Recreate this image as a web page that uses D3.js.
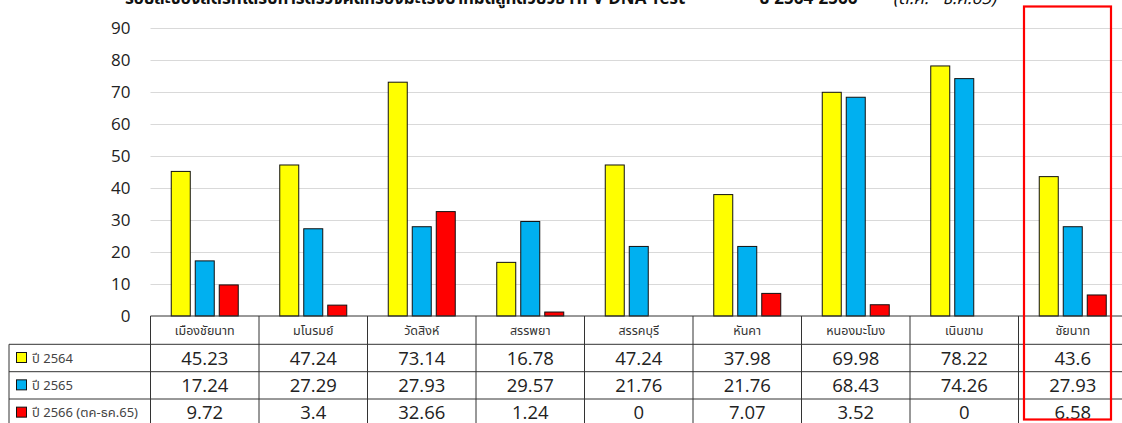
<!DOCTYPE html>
<html>
<head>
<meta charset="utf-8">
<script src="https://cdn.jsdelivr.net/npm/d3@7"></script>
<style>
  html, body { margin: 0; padding: 0; background: #fff; overflow: hidden; }
  svg { display: block; }
</style>
</head>
<body>
<svg id="chart" width="1122" height="423"></svg>
<script>
// Districts of Chai Nat province (last column = whole province)
const categories = ["เมืองชัยนาท", "มโนรมย์", "วัดสิงห์", "สรรพยา", "สรรคบุรี", "หันคา", "หนองมะโมง", "เนินขาม", "ชัยนาท"];
const seriesNames = ["ปี 2564", "ปี 2565", "ปี 2566 (ตค-ธค.65)"];
const values2564 = [45.23, 47.24, 73.14, 16.78, 47.24, 37.98, 69.98, 78.22, 43.6];
const values2565 = [17.24, 27.29, 27.93, 29.57, 21.76, 21.76, 68.43, 74.26, 27.93];
const values2566 = [9.72, 3.4, 32.66, 1.24, 0, 7.07, 3.52, 0, 6.58];
const valueLabels2564 = ["45.23", "47.24", "73.14", "16.78", "47.24", "37.98", "69.98", "78.22", "43.6"];
const valueLabels2565 = ["17.24", "27.29", "27.93", "29.57", "21.76", "21.76", "68.43", "74.26", "27.93"];
const valueLabels2566 = ["9.72", "3.4", "32.66", "1.24", "0", "7.07", "3.52", "0", "6.58"];
const yTicks = [0, 10, 20, 30, 40, 50, 60, 70, 80, 90];

const seriesValues = [values2564, values2565, values2566];
const seriesLabels = [valueLabels2564, valueLabels2565, valueLabels2566];
const colors = ["#FFFF00", "#00B0F0", "#FF0000"];

const svg = d3.select("#chart");
const numFont = "'Open Sans', 'Noto Sans', sans-serif";
const thaiFont = "'Noto Sans Thai', 'Tahoma', 'Noto Sans', sans-serif";

const plotLeft = 150.5, plotRight = 1127, plotTop = 28.3, plotBottom = 316;
const legendLeft = 9;
const rowEdges = [316, 344.3, 371.7, 399, 426.3];

const x = d3.scaleBand().domain(categories).range([plotLeft, plotRight]).padding(0);
const groupWidth = 67;
const xs = d3.scaleBand().domain(d3.range(3)).range([0, groupWidth]).paddingInner(5 / 24).paddingOuter(0);
const y = d3.scaleLinear().domain([0, 90]).range([plotBottom, plotTop]);

// Title (runs off the top edge of the sheet)
const title = svg.append("text").attr("y", 4).attr("font-family", thaiFont).attr("font-size", 17).attr("fill", "#111");
title.append("tspan").attr("x", 125).attr("font-weight", "bold").text("ร้อยละของสตรีที่ได้รับการตรวจคัดกรองมะเร็งปากมดลูกด้วยวิธี HPV DNA Test");
title.append("tspan").attr("x", 759).attr("font-weight", "bold").text("ปี 2564-2566");
title.append("tspan").attr("x", 893).attr("font-style", "italic").text("(ต.ค. - ธ.ค.65)");

// Gridlines
svg.append("g")
  .selectAll("line")
  .data(yTicks.filter(d => d > 0))
  .join("line")
  .attr("x1", plotLeft).attr("x2", plotRight)
  .attr("y1", d => Math.round(y(d)) + 0.5).attr("y2", d => Math.round(y(d)) + 0.5)
  .attr("stroke", "#d9d9d9").attr("stroke-width", 1);

// Y axis labels
const yAxis = svg.append("g").attr("transform", `translate(${plotLeft},0)`)
  .call(d3.axisLeft(y).tickValues(yTicks).tickSize(0).tickPadding(20));
yAxis.select(".domain").remove();
yAxis.selectAll("text").attr("font-family", numFont).attr("font-size", 17).attr("fill", "#222");

// Bars
const groups = svg.append("g")
  .selectAll("g")
  .data(categories)
  .join("g")
  .attr("transform", d => `translate(${x(d) + (x.bandwidth() - groupWidth) / 2},0)`);

groups.selectAll("rect")
  .data((d, i) => seriesValues.map((s, k) => ({ k, v: s[i] })).filter(e => e.v > 0))
  .join("rect")
  .attr("x", d => xs(d.k))
  .attr("y", d => y(d.v))
  .attr("width", xs.bandwidth())
  .attr("height", d => y(0) - y(d.v))
  .attr("fill", d => colors[d.k])
  .attr("stroke", "#111").attr("stroke-width", 1);

// Data table
const table = svg.append("g");
const lineColor = "#333";

// horizontal rules
table.append("line").attr("x1", plotLeft).attr("x2", plotRight).attr("y1", rowEdges[0]).attr("y2", rowEdges[0]).attr("stroke", lineColor);
rowEdges.slice(1, 4).forEach(r => {
  table.append("line").attr("x1", legendLeft).attr("x2", plotRight).attr("y1", r).attr("y2", r).attr("stroke", lineColor);
});
// vertical rules
categories.forEach(c => {
  table.append("line").attr("x1", x(c)).attr("x2", x(c)).attr("y1", rowEdges[0]).attr("y2", rowEdges[4]).attr("stroke", lineColor);
});
table.append("line").attr("x1", legendLeft).attr("x2", legendLeft).attr("y1", rowEdges[1]).attr("y2", rowEdges[4]).attr("stroke", lineColor);

// category header
table.selectAll("text.cat")
  .data(categories)
  .join("text")
  .attr("class", "cat")
  .attr("x", d => x(d) + x.bandwidth() / 2)
  .attr("y", (rowEdges[0] + rowEdges[1]) / 2)
  .attr("dy", "0.35em")
  .attr("text-anchor", "middle")
  .attr("font-family", thaiFont).attr("font-size", 12.5).attr("fill", "#333")
  .text(d => d);

// value rows
seriesLabels.forEach((labels, k) => {
  const cy = (rowEdges[k + 1] + rowEdges[k + 2]) / 2;
  table.append("g").selectAll("text")
    .data(categories)
    .join("text")
    .attr("x", d => x(d) + x.bandwidth() / 2)
    .attr("y", cy)
    .attr("dy", "0.36em")
    .attr("text-anchor", "middle")
    .attr("font-family", numFont).attr("font-size", 18.5).attr("fill", "#222")
    .text((d, i) => labels[i]);

  table.append("rect")
    .attr("x", 16.5).attr("y", cy - 5.5).attr("width", 10).attr("height", 10)
    .attr("fill", colors[k]).attr("stroke", "#111");
  table.append("text")
    .attr("x", 32).attr("y", cy).attr("dy", "0.35em")
    .attr("font-family", thaiFont).attr("font-size", 13).attr("fill", "#444")
    .text(seriesNames[k]);
});

// Highlight frame around the province total
svg.append("rect")
  .attr("x", 1024).attr("y", 6.5).attr("width", 87).attr("height", 413)
  .attr("fill", "none").attr("stroke", "#FF0000").attr("stroke-width", 2.2);
</script>
</body>
</html>
